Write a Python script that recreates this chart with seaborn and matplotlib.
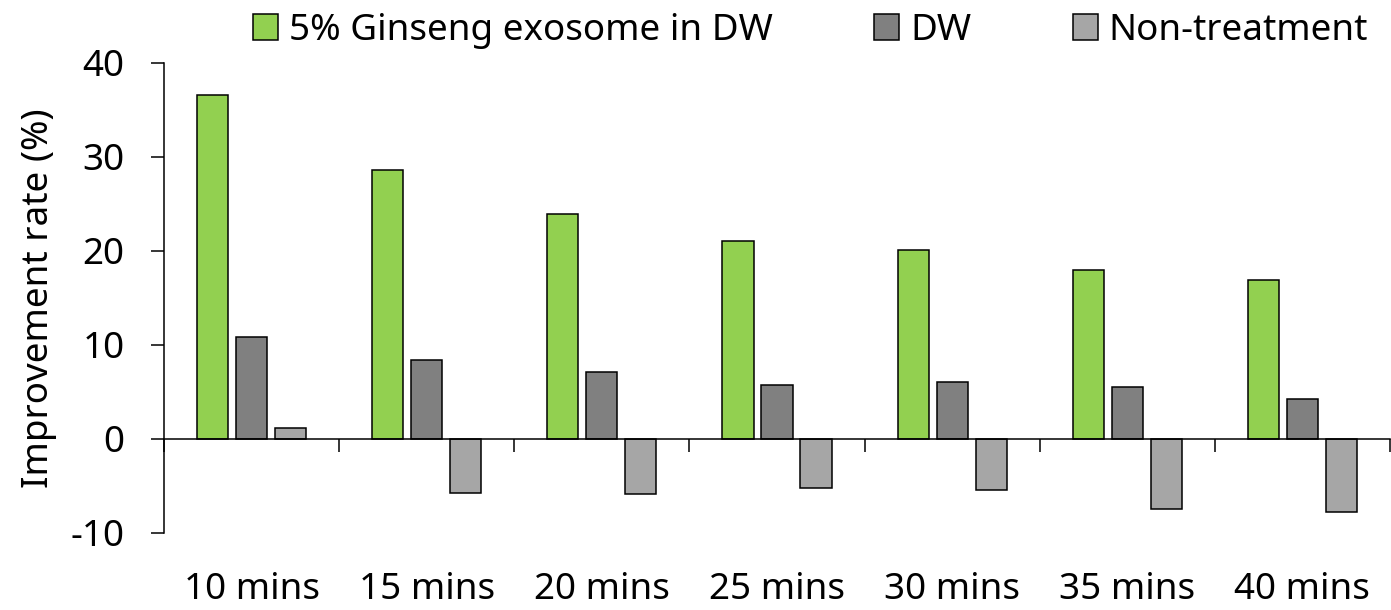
import matplotlib
matplotlib.use("Agg")
import matplotlib.pyplot as plt
import seaborn as sns
import pandas as pd
import numpy as np
from matplotlib.patches import Patch

categories = ["10 mins", "15 mins", "20 mins", "25 mins", "30 mins", "35 mins", "40 mins"]
ginseng = [36.6, 28.6, 23.9, 21.1, 20.1, 18.0, 16.9]
dw = [10.9, 8.4, 7.1, 5.7, 6.1, 5.5, 4.3]
non_treatment = [1.2, -5.7, -5.9, -5.2, -5.4, -7.4, -7.8]
series_names = ["5% Ginseng exosome in DW", "DW", "Non-treatment"]
colors = ["#92D050", "#808080", "#A6A6A6"]
yticks = [-10, 0, 10, 20, 30, 40]

rows = []
for name, vals in zip(series_names, [ginseng, dw, non_treatment]):
    for c, v in zip(categories, vals):
        rows.append({"time": c, "series": name, "value": v})
df = pd.DataFrame(rows)

sns.set_theme(style="white")
plt.rcParams["font.family"] = ["Noto Sans", "DejaVu Sans"]
plt.rcParams["text.color"] = "black"
plt.rcParams["axes.labelcolor"] = "black"
plt.rcParams["xtick.color"] = "black"
plt.rcParams["ytick.color"] = "black"

FS = 26.5

fig = plt.figure(figsize=(13.91, 6.10), dpi=100)
ax = fig.add_axes([164/1391, 1 - 533/610, (1390 - 164)/1391, (533 - 63)/610])

sns.barplot(data=df, x="time", y="value", hue="series", order=categories,
            hue_order=series_names, palette=colors, saturation=1, width=0.667, gap=0.2,
            edgecolor="black", linewidth=1.1, legend=False, ax=ax, errorbar=None)

ax.set_xlim(-0.5, len(categories) - 0.5)
ax.set_ylim(-10, 40)
ax.set_yticks(yticks)
ax.set_yticklabels([str(t) for t in yticks], fontsize=FS)
ax.set_ylabel("Improvement rate (%)", fontsize=FS, labelpad=10)
ax.set_xlabel("")

for s in ["top", "right"]:
    ax.spines[s].set_visible(False)
for s in ["left", "bottom"]:
    ax.spines[s].set_color("black")
    ax.spines[s].set_linewidth(1.1)
ax.spines["bottom"].set_position(("data", 0))

ax.tick_params(axis="y", which="major", direction="out", length=9.4, width=1.1,
               color="black", left=True, pad=19)
ax.set_xticks(np.arange(len(categories)))
ax.set_xticklabels(categories, fontsize=FS)
ax.set_xticks(np.arange(-0.5, len(categories), 1.0), minor=True)
ax.tick_params(axis="x", which="major", length=0, pad=96)
ax.tick_params(axis="x", which="minor", direction="out", length=9.4, width=1.1,
               color="black", bottom=True)

handles = [Patch(facecolor=c, edgecolor="black", linewidth=1.1) for c in colors]
fig.legend(handles, series_names, loc="center left",
           bbox_to_anchor=(253/1391, 1 - 31/610), ncol=3, frameon=False,
           fontsize=FS, handlelength=0.68, handleheight=0.68, handletextpad=0.3,
           columnspacing=2.75, borderpad=0, borderaxespad=0)

fig.savefig("out.png", dpi=100)
